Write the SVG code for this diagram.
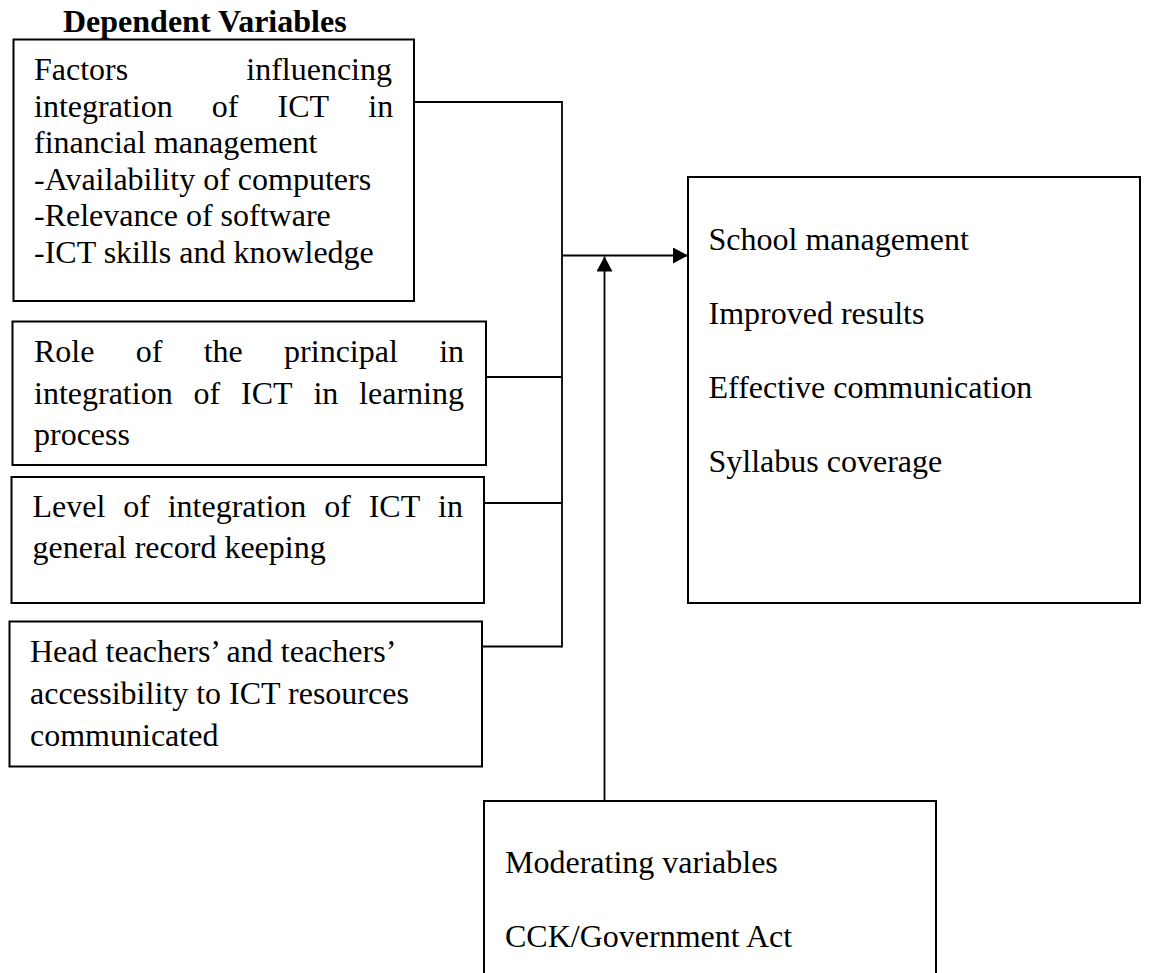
<svg xmlns="http://www.w3.org/2000/svg" width="1149" height="973" viewBox="0 0 1149 973">
<style>
.box{fill:#fff;stroke:#000;stroke-width:2}
.t{font-family:"Liberation Serif","Times New Roman",serif;font-size:32px;fill:#000}
.b{font-weight:bold}
.c{fill:none;stroke:#000;stroke-width:1.8}
</style>
<defs>
<marker id="ah" markerUnits="userSpaceOnUse" markerWidth="15" markerHeight="16" refX="15" refY="8" orient="auto">
<path d="M0,0 L15,8 L0,16 z" fill="#000"/>
</marker>
</defs>
<rect width="1149" height="973" fill="#fff"/>
<text class="t b" x="63" y="32">Dependent Variables</text>
<g id="connectors">
<line class="c" x1="414" y1="102" x2="562" y2="102"/>
<line class="c" x1="486" y1="377" x2="562" y2="377"/>
<line class="c" x1="484" y1="503" x2="562" y2="503"/>
<line class="c" x1="482" y1="646.5" x2="562" y2="646.5"/>
<line class="c" x1="562" y1="101" x2="562" y2="647.5"/>
<line class="c" x1="562" y1="255.5" x2="688" y2="255.5" marker-end="url(#ah)"/>
<line class="c" x1="604.5" y1="801" x2="604.5" y2="256.5" marker-end="url(#ah)"/>
</g>
<g id="factors">
<rect class="box" x="13.5" y="39.5" width="400.5" height="261.5"/>
<text class="t" y="80"><tspan x="34">Factors</tspan><tspan x="392" text-anchor="end">influencing</tspan></text>
<text class="t" y="116.5"><tspan x="34">integration</tspan><tspan x="211.8">of</tspan><tspan x="277.6">ICT</tspan><tspan x="368.3">in</tspan></text>
<text class="t" x="34" y="153">financial management</text>
<text class="t" x="34" y="189.5">-Availability of computers</text>
<text class="t" x="34" y="226">-Relevance of software</text>
<text class="t" x="34" y="262.5">-ICT skills and knowledge</text>
</g>
<g id="principal">
<rect class="box" x="12.5" y="321.5" width="473.5" height="143.5"/>
<text class="t" y="362"><tspan x="34">Role</tspan><tspan x="135.7">of</tspan><tspan x="203.7">the</tspan><tspan x="284.1">principal</tspan><tspan x="439.2">in</tspan></text>
<text class="t" y="403.5"><tspan x="34">integration</tspan><tspan x="193.5">of</tspan><tspan x="241">ICT</tspan><tspan x="313.4">in</tspan><tspan x="359.1">learning</tspan></text>
<text class="t" x="34" y="445">process</text>
</g>
<g id="record">
<rect class="box" x="11.5" y="477" width="472.5" height="126"/>
<text class="t" y="517"><tspan x="32.5">Level</tspan><tspan x="123.2">of</tspan><tspan x="167.7">integration</tspan><tspan x="324.2">of</tspan><tspan x="368.7">ICT</tspan><tspan x="438.1">in</tspan></text>
<text class="t" x="32.5" y="558">general record keeping</text>
</g>
<g id="access">
<rect class="box" x="9.5" y="621.5" width="472.5" height="145"/>
<text class="t" x="30" y="661.5">Head teachers’ and teachers’</text>
<text class="t" x="30" y="703.5">accessibility to ICT resources</text>
<text class="t" x="30" y="745.5">communicated</text>
</g>
<g id="outcomes">
<rect class="box" x="688" y="177" width="452" height="426"/>
<text class="t" x="708.5" y="250">School management</text>
<text class="t" x="708.5" y="323.5">Improved results</text>
<text class="t" x="708.5" y="397.5">Effective communication</text>
<text class="t" x="708.5" y="471.5">Syllabus coverage</text>
</g>
<g id="moderating">
<rect class="box" x="484" y="801" width="452" height="190"/>
<text class="t" x="505" y="873">Moderating variables</text>
<text class="t" x="505" y="946.5">CCK/Government Act</text>
</g>
</svg>
